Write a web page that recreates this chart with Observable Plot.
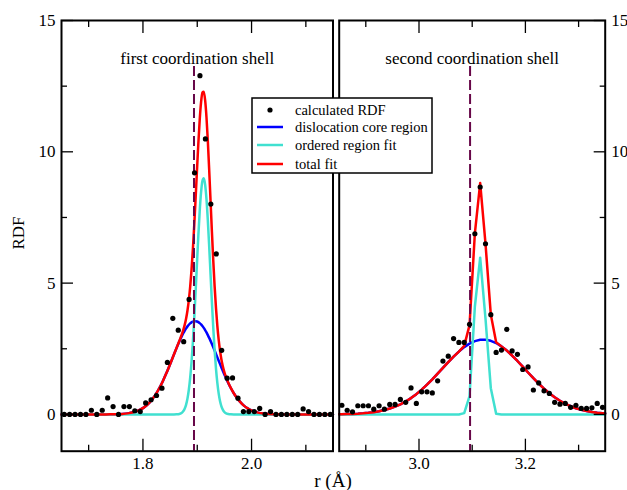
<!DOCTYPE html>
<html>
<head>
<meta charset="utf-8">
<script src="https://cdn.jsdelivr.net/npm/d3@7"></script>
<script src="https://cdn.jsdelivr.net/npm/@observablehq/plot@0.6"></script>
<style>
  body { margin: 0; background: #fff; }
  #chart { position: relative; width: 627px; height: 490px; font-family: "Liberation Serif", "Times New Roman", serif; color: #000; background: #fff; overflow: hidden; }
  #chart > svg { position: absolute; left: 0; top: 0; }
  .lab { position: absolute; font-size: 17px; white-space: nowrap; line-height: 1; }
</style>
</head>
<body>
<div id="chart"></div>
<script>
// ---------- data ----------
const yDomain = [-1.4, 15];
const yMajor = [0, 5, 10, 15];
const yMinor = [2.5, 7.5, 12.5];
const dashTop = 13.25;

// first coordination shell
const leftXDomain = [1.65, 2.15];
const leftXMajor = [1.8, 2.0];
const leftXMinor = [1.7, 1.9, 2.1];
const leftDash = 1.894;
const leftDotsR = [1.655,1.665,1.675,1.685,1.695,1.705,1.715,1.725,1.735,1.745,
  1.755,1.765,1.775,1.785,1.795,1.805,1.815,1.825,1.835,1.845,
  1.855,1.865,1.875,1.885,1.895,1.905,1.915,1.925,1.935,1.945,
  1.955,1.965,1.975,1.985,1.995,2.005,2.015,2.025,2.035,2.045,
  2.055,2.065,2.075,2.085,2.095,2.105,2.115,2.125,2.135,2.145];
const leftDotsRDF = [0,0,0,0,0,0.16,0,0.16,0.63,0.30,
  0,0.30,0.30,0.14,0.11,0.44,0.56,0.72,1.00,1.98,
  3.66,3.21,2.77,4.38,9.20,12.90,10.49,8.01,6.11,2.44,
  1.38,1.39,0.62,0.11,0.11,0.11,0.23,0,0.11,0,
  0,0,0,0,0.21,0.11,0,0,0,0];
const leftFitR = [1.65,1.702,1.722,1.732,1.742,1.752,1.762,1.772,1.782,1.792,
  1.802,1.812,1.822,1.832,1.837,1.842,1.847,1.852,1.857,1.862,
  1.867,1.872,1.8745,1.877,1.8795,1.882,1.8845,1.887,1.8895,1.892,
  1.8945,1.897,1.8995,1.902,1.9045,1.907,1.9095,1.912,1.9145,1.917,
  1.9195,1.922,1.9245,1.927,1.9295,1.932,1.9345,1.937,1.9395,1.942,
  1.9445,1.947,1.9495,1.952,1.957,1.962,1.967,1.972,1.977,1.982,
  1.987,1.992,2.002,2.012,2.022,2.032,2.042,2.052,2.062,2.082,
  2.15];
const leftCore = [0,0,0.001,0.001,0.004,0.008,0.019,0.040,0.080,0.151,
  0.269,0.453,0.718,1.075,1.286,1.516,1.762,2.018,2.278,2.534,
  2.778,3.001,3.102,3.195,3.279,3.353,3.416,3.467,3.506,3.533,
  3.548,3.549,3.537,3.513,3.476,3.427,3.366,3.294,3.213,3.122,
  3.022,2.915,2.801,2.682,2.559,2.432,2.304,2.174,2.044,1.915,
  1.787,1.662,1.540,1.422,1.199,0.996,0.816,0.659,0.524,0.410,
  0.317,0.241,0.134,0.070,0.035,0.016,0.007,0.003,0.001,0,
  0];
const leftOrdered = [0,0,0,0,0,0,0,0,0,0,
  0,0,0,0,0,0,0,0,0.001,0.005,
  0.019,0.071,0.129,0.225,0.376,0.606,0.939,1.401,2.007,2.769,
  3.674,4.690,5.759,6.803,7.732,8.452,8.889,8.993,8.752,8.195,
  7.380,6.394,5.330,4.273,3.297,2.446,1.746,1.199,0.792,0.503,
  0.308,0.181,0.102,0.056,0.015,0.003,0,0,0,0,
  0,0,0,0,0,0,0,0,0,0,
  0];
const leftTotal = [0,0,0.001,0.001,0.004,0.008,0.019,0.040,0.080,0.151,
  0.269,0.453,0.718,1.075,1.286,1.516,1.762,2.018,2.279,2.539,
  2.797,3.072,3.231,3.420,3.655,3.959,4.355,4.868,5.513,6.302,
  7.222,8.239,9.296,10.316,11.208,11.879,12.255,12.287,11.965,11.317,
  10.402,9.309,8.131,6.955,5.856,4.878,4.050,3.373,2.836,2.418,
  2.095,1.843,1.642,1.478,1.214,0.999,0.816,0.659,0.524,0.410,
  0.317,0.241,0.134,0.070,0.035,0.016,0.007,0.003,0.001,0,
  0];

// second coordination shell
const rightXDomain = [2.85, 3.35];
const rightXMajor = [3.0, 3.2];
const rightXMinor = [2.9, 3.1, 3.3];
const rightDash = 3.096;
const rightDotsR = [2.855,2.865,2.875,2.885,2.895,2.905,2.915,2.925,2.935,2.945,
  2.955,2.965,2.975,2.985,2.995,3.005,3.015,3.025,3.035,3.045,
  3.055,3.065,3.075,3.085,3.095,3.105,3.115,3.125,3.135,3.145,
  3.155,3.165,3.175,3.185,3.195,3.205,3.215,3.225,3.235,3.245,
  3.255,3.265,3.275,3.285,3.295,3.305,3.315,3.325,3.335,3.345];
const rightDotsRDF = [0.35,0.16,0.10,0.33,0.33,0.33,0.20,0.33,0.20,0.38,
  0.38,0.57,0.46,1.01,0.42,0.86,0.86,0.82,1.28,2.03,
  2.22,2.89,2.74,2.74,3.43,6.88,8.66,6.50,3.80,2.36,
  2.45,3.24,2.42,2.29,1.71,1.81,0.93,1.20,0.90,0.80,
  0.46,0.39,0.42,0.27,0.35,0.23,0.23,0.25,0.42,0.27];
const rightFitR = [2.85,2.855,2.865,2.875,2.885,2.895,2.905,2.915,2.925,2.935,
  2.945,2.955,2.965,2.975,2.985,2.995,3.005,3.015,3.025,3.035,
  3.045,3.055,3.065,3.075,3.085,3.095,3.105,3.115,3.125,3.135,
  3.145,3.155,3.165,3.175,3.185,3.195,3.205,3.215,3.225,3.235,
  3.245,3.255,3.265,3.275,3.285,3.295,3.305,3.315,3.325,3.335,
  3.345,3.35];
const rightCore = [0.007,0.009,0.013,0.020,0.029,0.043,0.062,0.087,0.121,0.166,
  0.224,0.296,0.386,0.494,0.623,0.773,0.943,1.132,1.336,1.552,
  1.773,1.992,2.202,2.395,2.562,2.696,2.791,2.842,2.846,2.804,
  2.718,2.592,2.431,2.243,2.035,1.817,1.596,1.379,1.172,0.980,
  0.805,0.652,0.518,0.406,0.313,0.237,0.176,0.129,0.093,0.066,
  0.046,0.038];
const rightOrdered = [0,0,0,0,0,0,0,0,0,0,
  0,0,0,0,0,0,0,0,0,0,
  0,0,0,0,0.05,0.70,4.10,5.97,3.65,1.00,
  0.03,0,0,0,0,0,0,0,0,0,
  0,0,0,0,0,0,0,0,0,0,
  0,0];
const rightTotal = [0.007,0.009,0.013,0.020,0.029,0.043,0.062,0.087,0.121,0.166,
  0.224,0.296,0.386,0.494,0.623,0.773,0.943,1.132,1.336,1.552,
  1.773,1.992,2.202,2.395,2.61,3.40,6.89,8.81,6.50,3.80,
  2.75,2.592,2.431,2.243,2.035,1.817,1.596,1.379,1.172,0.980,
  0.805,0.652,0.518,0.406,0.313,0.237,0.176,0.129,0.093,0.066,
  0.046,0.038];

const titles = ["first coordination shell", "second coordination shell"];
const legendLabels = ["calculated RDF", "dislocation core region", "ordered region fit", "total fit"];
const colors = {dots: "#000000", core: "#0000ff", ordered: "#40e0d0", total: "#ff0000", dash: "#670748"};
const xLabel = "r (Å)";
const yLabel = "RDF";

// ---------- drawing ----------
const chart = document.getElementById("chart");

function panel(o) {
  const fit = o.fitR.map((r, i) => ({r, core: o.core[i], ordered: o.ordered[i], total: o.total[i]}));
  const pts = o.dotsR.map((r, i) => ({r, g: o.dotsG[i]}));
  const s = o.side === "left" ? 1 : -1;
  const tk = {fill: "none", strokeWidth: 1.3, label: null};
  return Plot.plot({
    width: 627, height: 490,
    marginLeft: o.ml, marginRight: o.mr, marginTop: 20, marginBottom: 39.3,
    x: {domain: o.xDomain},
    y: {domain: yDomain},
    style: {background: "transparent", fontFamily: "'Liberation Serif', 'Times New Roman', serif", fontSize: "17px", color: "black", overflow: "visible"},
    marks: [
      Plot.line(fit, {x: "r", y: "core", stroke: colors.core, strokeWidth: 2.5, curve: o.curve}),
      Plot.line(fit, {x: "r", y: "ordered", stroke: colors.ordered, strokeWidth: 2.5, curve: o.curve}),
      Plot.line(fit, {x: "r", y: "total", stroke: colors.total, strokeWidth: 2.5, curve: o.curve}),
      Plot.ruleX([o.dash], {x: d => d, y1: dashTop, y2: yDomain[0], stroke: colors.dash, strokeWidth: 2, strokeDasharray: "10,4"}),
      Plot.dot(pts, {x: "r", y: "g", r: 2.6, fill: colors.dots}),
      Plot.text([o.title], {text: d => d, frameAnchor: "top", dy: 31, fontSize: 17}),
      Plot.axisX({anchor: "bottom", ticks: o.xMajor, tickSize: 12, dy: -12, ...tk}),
      Plot.axisX({anchor: "bottom", ticks: o.xMinor, tickSize: 6, dy: -6, ...tk}),
      Plot.axisX({anchor: "top", ticks: o.xMajor, tickSize: 12, dy: 12, ...tk}),
      Plot.axisX({anchor: "top", ticks: o.xMinor, tickSize: 6, dy: 6, ...tk}),
      Plot.axisY({anchor: o.side, ticks: yMajor, tickSize: 12, dx: 12 * s, ...tk}),
      Plot.axisY({anchor: o.side, ticks: yMinor, tickSize: 6, dx: 6 * s, ...tk}),
      Plot.axisX({anchor: "bottom", ticks: o.xMajor, tickSize: 0, tickPadding: 6, tickFormat: d3.format(".1f"), label: null}),
      Plot.axisY({anchor: o.side, ticks: yMajor, tickSize: 0, tickPadding: 6, label: null}),
      Plot.frame({strokeWidth: 2})
    ]
  });
}

const left = panel({
  fitR: leftFitR, core: leftCore, ordered: leftOrdered, total: leftTotal,
  dotsR: leftDotsR, dotsG: leftDotsRDF, xDomain: leftXDomain, xMajor: leftXMajor, xMinor: leftXMinor,
  dash: leftDash, title: titles[0], side: "left", ml: 61, mr: 627 - 332.5, curve: "monotone-x"
});
const right = panel({
  fitR: rightFitR, core: rightCore, ordered: rightOrdered, total: rightTotal,
  dotsR: rightDotsR, dotsG: rightDotsRDF, xDomain: rightXDomain, xMajor: rightXMajor, xMinor: rightXMinor,
  dash: rightDash, title: titles[1], side: "right", ml: 338.7, mr: 627 - 604.7, curve: "linear"
});
chart.appendChild(left);
chart.appendChild(right);

// legend
const ns = "http://www.w3.org/2000/svg";
const lg = document.createElementNS(ns, "svg");
lg.setAttribute("width", 182); lg.setAttribute("height", 77);
lg.style.left = "251px"; lg.style.top = "97px";
function el(tag, attrs, parent) {
  const e = document.createElementNS(ns, tag);
  for (const k in attrs) e.setAttribute(k, attrs[k]);
  parent.appendChild(e);
  return e;
}
el("rect", {x: 1, y: 1, width: 180, height: 75, fill: "#fff", stroke: "#000", "stroke-width": 1.5}, lg);
const rowY = [13, 30, 48, 67];
const legendColors = [colors.dots, colors.core, colors.ordered, colors.total];
legendLabels.forEach((t, i) => {
  if (i === 0) el("circle", {cx: 19, cy: rowY[i], r: 2.6, fill: legendColors[i]}, lg);
  else el("line", {x1: 6, x2: 32, y1: rowY[i], y2: rowY[i], stroke: legendColors[i], "stroke-width": 2.5}, lg);
  const tx = el("text", {x: 44, y: rowY[i] + 5, "font-size": 14.5, "font-family": "'Liberation Serif', serif", fill: "#000"}, lg);
  tx.textContent = t;
});
chart.appendChild(lg);

// axis titles
const yl = document.createElement("div");
yl.className = "lab";
yl.textContent = yLabel;
yl.style.left = "18px"; yl.style.top = "233px";
yl.style.transform = "translate(-50%,-50%) rotate(-90deg)";
chart.appendChild(yl);
const xl = document.createElement("div");
xl.className = "lab";
xl.textContent = xLabel;
xl.style.fontSize = "19px";
xl.style.left = "333px"; xl.style.top = "480px";
xl.style.transform = "translate(-50%,-50%)";
chart.appendChild(xl);
</script>
</body>
</html>
